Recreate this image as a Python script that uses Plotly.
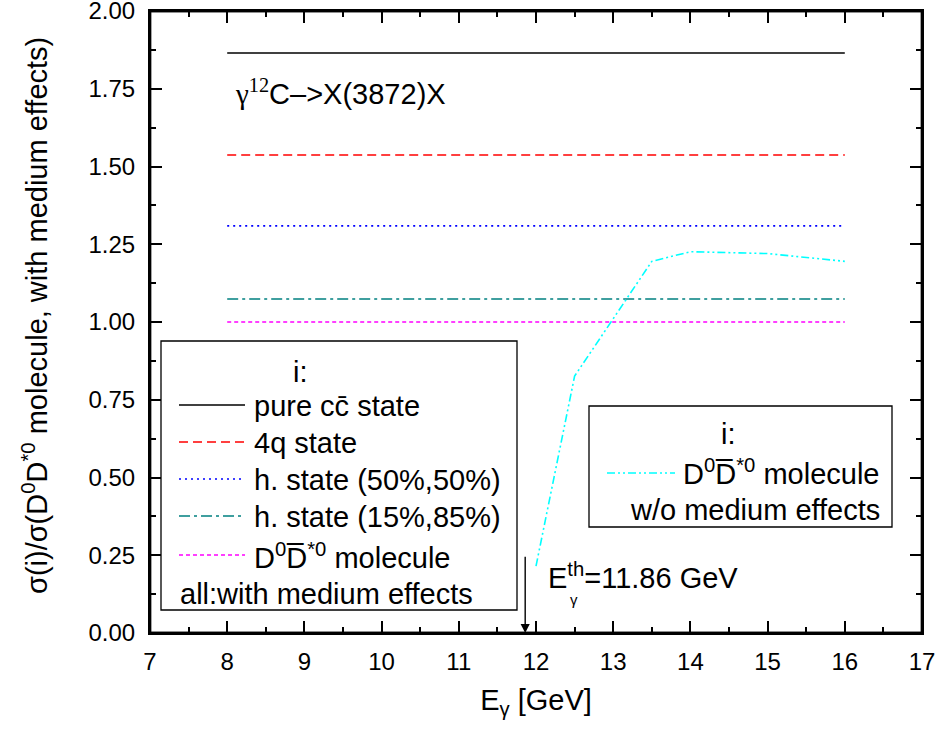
import plotly.graph_objects as go

# ---- data ----
energy_const = [8, 16]
ratio_pure_ccbar = [1.865, 1.865]
ratio_4q = [1.537, 1.537]
ratio_hybrid_50 = [1.309, 1.309]
ratio_hybrid_15 = [1.074, 1.074]
ratio_molecule = [1.0, 1.0]

energy_free = [12.0, 12.5, 13.5, 14.0, 15.0, 16.0]
ratio_molecule_free = [0.215, 0.826, 1.195, 1.226, 1.220, 1.195]

threshold_energy = 11.86
arrow_top = 0.25

x_ticks = [7, 8, 9, 10, 11, 12, 13, 14, 15, 16, 17]
y_ticks = [0.0, 0.25, 0.5, 0.75, 1.0, 1.25, 1.5, 1.75, 2.0]

FONT = "Liberation Sans, Arial, sans-serif"
SERIF = "Liberation Serif, Times New Roman, serif"
LW = 1.6

series = [
    (ratio_pure_ccbar, "#000000", "solid"),
    (ratio_4q, "#FF0000", "9px,5px"),
    (ratio_hybrid_50, "#0000FF", "2px,4px"),
    (ratio_hybrid_15, "#008080", "11px,4px,3px,4px"),
    (ratio_molecule, "#FF00FF", "4px,3px"),
]

fig = go.Figure()
for vals, col, dash in series:
    fig.add_trace(go.Scatter(x=energy_const, y=vals, mode="lines",
                             line=dict(color=col, width=LW, dash=dash),
                             showlegend=False, hoverinfo="skip"))
fig.add_trace(go.Scatter(x=energy_free, y=ratio_molecule_free, mode="lines",
                         line=dict(color="#00FFFF", width=LW, dash="8px,3px,2px,3px,2px,3px"),
                         showlegend=False, hoverinfo="skip"))

# plot area pixel geometry -> paper coords helpers
L, R, T, B = 150, 922, 11, 633
def px(x):
    return (x - L) / (R - L)
def py(y):
    return (B - y) / (B - T)

shapes = []
annotations = []
LEG_FS = 29

def text(xp, yp, s, anchor="left", size=LEG_FS, angle=0):
    annotations.append(dict(xref="paper", yref="paper", x=px(xp), y=py(yp), text=s,
                            showarrow=False, xanchor=anchor, yanchor="middle",
                            textangle=angle, font=dict(size=size)))

# plot frame (drawn both below and above the traces)
for lay in ("below", "above"):
    shapes.append(dict(type="rect", xref="x domain", yref="y domain", x0=0, x1=1, y0=0, y1=1,
                       line=dict(color="black", width=2.4), layer=lay))

# legend box 1
shapes.append(dict(type="rect", xref="paper", yref="paper",
                   x0=px(161), x1=px(517), y0=py(610), y1=py(341),
                   line=dict(color="black", width=1.3), fillcolor="white", layer="above"))
text(300, 372, "i:", anchor="center")
legend1 = [
    ("pure cc\u0304 state", 405),
    ("4q state", 442),
    ("h. state (50%,50%)", 479),
    ("h. state (15%,85%)", 516),
    ("D<sup>0</sup>D\u0305<sup>*0</sup> molecule", 555),
]
for (label, ypix), (vals, col, dash) in zip(legend1, series):
    shapes.append(dict(type="line", xref="paper", yref="paper",
                       x0=px(179), x1=px(245), y0=py(ypix), y1=py(ypix),
                       line=dict(color=col, width=LW, dash=dash), layer="above"))
    text(252, ypix + 1, label)
text(178, 594, "all:with medium effects")

# legend box 2
shapes.append(dict(type="rect", xref="paper", yref="paper",
                   x0=px(589), x1=px(892), y0=py(527), y1=py(406),
                   line=dict(color="black", width=1.3), fillcolor="white", layer="above"))
text(728, 434, "i:", anchor="center")
shapes.append(dict(type="line", xref="paper", yref="paper",
                   x0=px(607), x1=px(675), y0=py(473), y1=py(473),
                   line=dict(color="#00FFFF", width=LW, dash="8px,3px,2px,3px,2px,3px"),
                   layer="above"))
text(681, 472, "D<sup>0</sup>D\u0305<sup>*0</sup> molecule")
text(882, 510, "w/o medium effects", anchor="right")

# reaction label
text(233, 92, f"<span style='font-family:{SERIF}'>\u03b3</span>"
              f"<sup><span style='font-family:{SERIF}'>12</span></sup>C\u2013>X(3872)X")

# threshold arrow + label
annotations.append(dict(x=threshold_energy, y=0, ax=threshold_energy, ay=arrow_top,
                        xref="x", yref="y", axref="x", ayref="y", text="",
                        showarrow=True, arrowhead=2, arrowsize=1.3, arrowwidth=1.4,
                        arrowcolor="black"))
text(546, 576, "E<sup>th</sup>=11.86 GeV")
text(568, 599, "\u03b3", size=15)

# y-axis title as rotated annotation
text(35, 316, "\u03c3(i)/\u03c3(D<sup>0</sup>D<sup>*0</sup> molecule, with medium effects)",
     anchor="center", size=29, angle=-90)

axis_common = dict(
    showline=True, linewidth=2.2, linecolor="black", automargin=False, mirror="allticks",
    ticks="inside", ticklen=12, tickwidth=1.8, tickcolor="black",
    showgrid=False, zeroline=False, ticklabeloverflow="allow",
    tickfont=dict(size=24, color="black", family=FONT),
)
minor_x = dict(ticks="inside", ticklen=6, dtick=0.5, tickwidth=1.6, tickcolor="black", showgrid=False)
minor_y = dict(ticks="inside", ticklen=6, dtick=0.125, tickwidth=1.6, tickcolor="black", showgrid=False)

fig.update_layout(
    width=938, height=732,
    margin=dict(l=L, r=938 - R, t=T, b=732 - B, autoexpand=False),
    paper_bgcolor="white", plot_bgcolor="rgba(0,0,0,0)",
    font=dict(family=FONT, color="black"),
    shapes=shapes, annotations=annotations,
    xaxis=dict(range=[7, 17], tickvals=x_ticks, ticktext=[str(v) for v in x_ticks],
               minor=minor_x,
               title=dict(text="E<sub>\u03b3</sub> [GeV]", font=dict(size=29), standoff=16),
               ticklabelstandoff=6, **axis_common),
    yaxis=dict(range=[0, 2], tickvals=y_ticks, ticktext=[f"{v:.2f}" for v in y_ticks],
               minor=minor_y, ticklabelstandoff=8, **axis_common),
)

fig.write_html("out.html", config={"displayModeBar": False},
               post_script="document.body.style.margin='0';document.body.style.overflow='hidden';")
